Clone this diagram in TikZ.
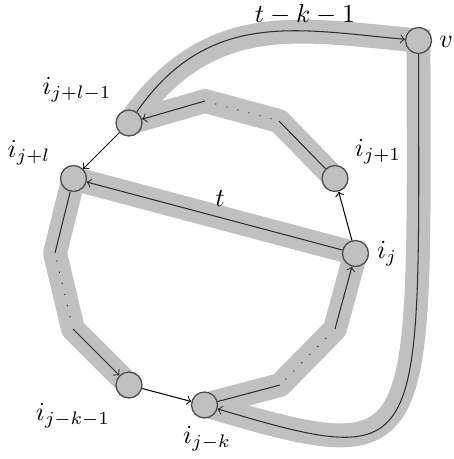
\documentclass[tikz,border=0pt]{standalone}
\usetikzlibrary{backgrounds}
\definecolor{bandgray}{HTML}{C0C0C0}
\definecolor{rimgray}{HTML}{4D4D4D}
\definecolor{linegray}{HTML}{2E2E2E}
\begin{document}
\begin{tikzpicture}[x=0.385pt,y=-0.385pt,
  vtx/.style={circle, minimum size=10pt, inner sep=0pt, fill=bandgray, draw=rimgray, line width=0.5pt},
  band/.style={draw=bandgray, line width=9.2pt, line cap=round, line join=round},
  walk/.style={draw=linegray, line width=0.4pt},
  walkarrow/.style={walk, ->},
  gapline/.style={walk, loosely dotted, shorten <=3pt, shorten >=3pt},
  edge/.style={->, draw=black, line width=0.4pt},
  lbl/.style={inner sep=0pt}]
\useasboundingbox (0,0) rectangle (454,459);

% vertices
\node[vtx] (v)   at (418.5,40.5) {};
\node[vtx] (jl1) at (129,123) {};
\node[vtx] (jl)  at (73.5,178.5) {};
\node[vtx] (j1)  at (335,178.5) {};
\node[vtx] (j)   at (355.5,253.5) {};
\node[vtx] (jk1) at (129,385) {};
\node[vtx] (jk)  at (204.5,405) {};

% corners of the walks
\coordinate (c1) at (279,121);
\coordinate (c2) at (205,101);
\coordinate (c3) at (55,253);
\coordinate (c4) at (73,329);
\coordinate (c5) at (280,385);
\coordinate (c6) at (335,329);

% gray bands
\begin{scope}[on background layer]
  \draw[band] (j1.center) -- (c1) -- (c2) -- (jl1.center);
  \draw[band, line join=miter] (jl1.center) .. controls (209,8) and (300,30) .. (v.center)
        .. controls (419,459) and (430,472) .. (jk.center);
  \draw[band] (jk.center) -- (c5) -- (c6) -- (j.center) -- (jl.center) -- (c3) -- (c4) -- (jk1.center);
\end{scope}

% walk lines inside the bands
\draw[walk] (j1) -- (c1);
\draw[gapline] (c1) -- (c2);
\draw[walkarrow] (c2) -- (jl1);
\draw[walkarrow] (jl1) .. controls (209,8) and (300,30) .. (v);
\draw[walkarrow] (v) .. controls (419,459) and (430,472) .. (jk);
\draw[walk] (jk) -- (c5);
\draw[gapline] (c5) -- (c6);
\draw[walkarrow] (c6) -- (j);
\draw[walkarrow] (j) -- (jl);
\draw[walk] (jl) -- (c3);
\draw[gapline] (c3) -- (c4);
\draw[walkarrow] (c4) -- (jk1);

% plain edges
\draw[edge] (jl1) -- (jl);
\draw[edge] (jk1) -- (jk);
\draw[edge] (j) -- (j1);

% labels
\node[lbl] (lv)   at (446,42)  {$v$};
\node[lbl] (ltk)  at (305,15)  {$t-k-1$};
\node[lbl] (lt)   at (220,199) {$t$};
\node[lbl] (ljl1) at (77,90)   {$i_{j+l-1}$};
\node[lbl] (ljl)  at (29,153)  {$i_{j+l}$};
\node[lbl] (lj1)  at (378,152) {$i_{j+1}$};
\node[lbl] (lj)   at (387,254) {$i_j$};
\node[lbl] (ljk1) at (73,416)  {$i_{j-k-1}$};
\node[lbl] (ljk)  at (207,439) {$i_{j-k}$};
\end{tikzpicture}
\end{document}
